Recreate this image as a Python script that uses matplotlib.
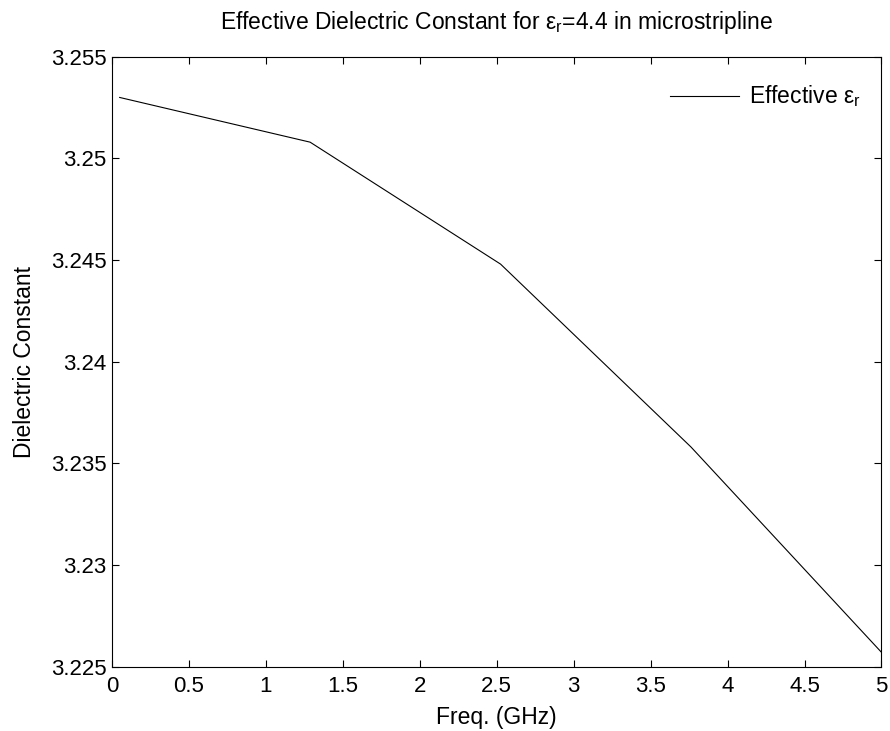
import matplotlib
matplotlib.use('Agg')
import matplotlib.pyplot as plt
from matplotlib.ticker import FormatStrFormatter

# values
freq_ghz = [0.05, 1.2875, 2.525, 3.7625, 5.0]
eps_eff = [3.2530, 3.2508, 3.2448, 3.2358, 3.2257]

x_ticks = [0, 0.5, 1, 1.5, 2, 2.5, 3, 3.5, 4, 4.5, 5]
y_ticks = [3.225, 3.23, 3.235, 3.24, 3.245, 3.25, 3.255]

plt.rcParams['font.family'] = ['Liberation Sans', 'DejaVu Sans']
plt.rcParams['mathtext.fontset'] = 'custom'
plt.rcParams['mathtext.rm'] = 'Liberation Sans'
plt.rcParams['mathtext.it'] = 'Liberation Sans:italic'

fig = plt.figure(figsize=(8.9, 7.31), dpi=100)
ax = fig.add_axes([0.1258, 0.0882, 0.9904 - 0.1258, 0.9223 - 0.0882])

ax.plot(freq_ghz, eps_eff, color='black', linewidth=0.8,
        label=r'Effective $\mathrm{\varepsilon_r}$')

ax.set_xlim(0, 5)
ax.set_ylim(3.225, 3.255)
ax.set_xticks(x_ticks)
ax.set_yticks(y_ticks)
ax.xaxis.set_major_formatter(FormatStrFormatter('%g'))
ax.yaxis.set_major_formatter(FormatStrFormatter('%g'))
ax.tick_params(direction='in', length=5, width=0.8, top=True, right=True,
               labelsize=16)
ax.tick_params(axis='x', pad=7)
ax.tick_params(axis='y', pad=4)
for sp in ax.spines.values():
    sp.set_linewidth(0.8)

ax.set_xlabel('Freq. (GHz)', fontsize=16.5, labelpad=6)
ax.set_ylabel('Dielectric Constant', fontsize=16.5, labelpad=11)
ax.set_title(r'Effective Dielectric Constant for $\mathrm{\varepsilon_r}$=4.4 in microstripline',
             fontsize=16.5, pad=20)

ax.legend(loc='upper right', bbox_to_anchor=(1.0, 0.99), frameon=False,
          fontsize=16.5, handlelength=3.0, handletextpad=0.45,
          borderaxespad=0.5)

fig.savefig('out.png', dpi=100)
